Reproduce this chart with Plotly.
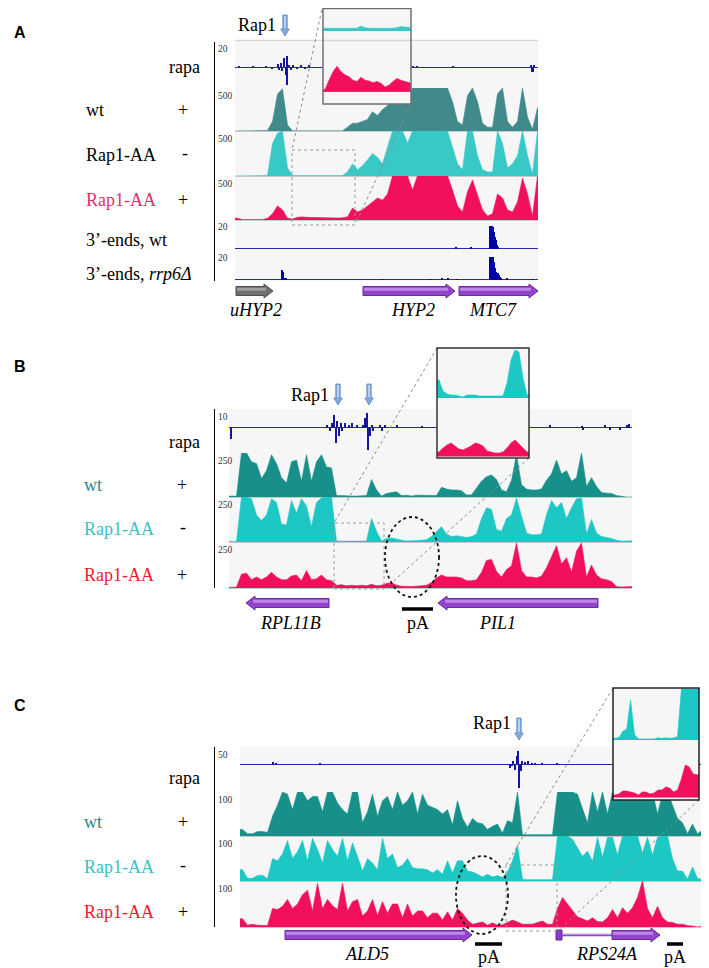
import plotly.graph_objects as go

# The page body adds an 8 px margin, so the figure is placed at (8, 8) in the window.
OFF = 8
W, H = 709 - OFF, 968 - OFF
def PX(x): return (x - OFF) / W
def PY(y): return 1 - (y - OFF) / H

# ---------------- data ----------------
BIN = 5  # coverage bin width (track units)

# Panel A coverage (scale 500)
A_wt = [0,0,0,0,0,0,5,110,430,490,70,2,2,2,2,5,10,3,2,2,3,2,45,90,90,110,135,225,180,250,295,385,385,365,340,
        500,500,500,500,500,500,500,500,340,110,70,410,500,340,90,45,45,430,500,110,45,110,500,160,20,270]
A_minus = [0,0,0,0,0,0,5,360,475,500,90,5,5,5,5,5,5,5,5,5,5,5,45,135,70,115,180,250,205,135,320,500,500,500,365,
           500,500,500,500,500,500,500,500,320,135,70,500,500,225,70,45,45,500,365,90,135,225,500,225,20,500]
A_plus = [20,5,5,5,5,5,20,70,160,115,20,10,30,35,30,28,25,22,25,20,22,25,35,135,90,115,160,205,250,225,295,
          500,500,500,500,340,500,500,500,500,500,500,500,340,160,90,320,455,295,115,45,70,295,250,115,90,205,475,295,45,500]
rapA_pos = [4,11,18,25,31,37,42.7,44.3,45.7,47.3,49.3,50.7,51.7,52.3,54.3,55.7,58,62,66,70,74,178,182,218,296.5,297.5,298.5,299.5]
rapA_val = [0.8,-0.8,0.8,-0.7,0.8,-1,2.4,-2,3,-3.5,7,-6,9,-14,2,-2,1.5,-1,1,-1,1,0.8,0.8,0.8,1.5,-4,-4,1]
endA_wt_pos = [221,236,255,256,257,258,259,260,261,262,263]
endA_wt_val = [1.2,0.8,15.6,15.6,15.6,15,12,8,6,2.5,1.5]
endA_rrp_pos = [46.7,47.7,49,50,51,147,195,207,213,222,255,256,257,258,259,260,261,262,263,264,265,266,272,298]
endA_rrp_val = [6.7,5,1.5,1.5,1,0.6,0.6,0.8,0.8,0.6,15.6,15.6,15.6,15,12,8,5,4.4,4.4,3,2,1.5,1,0.6]
A_in_minus = [5,6,6,5,5,5,5,5,5,9,6,5,5,5,5,4,5,5,6,8,7,6]
A_in_plus = [4,19,33,42,33,28,25,19,17,24,19,18,15,17,14,8,11,17,22,19,17,14]

# Panel B coverage (scale 250)
B_wt = [5,5,250,250,200,190,105,150,240,190,110,80,200,210,90,240,90,200,240,170,165,8,8,5,5,5,8,8,100,40,
        5,20,25,30,8,10,5,10,10,10,8,8,55,45,40,40,35,12,12,50,90,115,125,100,40,30,95,240,70,45,
        40,40,45,95,130,210,130,150,90,110,250,60,110,60,25,22,20,8,3,0,0]
B_minus = [3,3,250,250,240,150,120,150,240,220,100,95,230,160,240,200,85,220,245,250,250,5,5,5,3,3,5,5,130,60,
           5,20,22,18,10,5,5,8,10,12,30,60,85,45,30,35,30,25,30,45,130,190,180,70,60,130,150,245,145,50,
           40,40,45,150,230,190,220,130,190,240,245,45,125,50,30,25,20,10,5,5,8]
B_plus = [3,5,75,80,45,60,45,60,85,60,45,45,65,70,40,95,45,50,70,45,40,15,18,12,15,12,15,12,20,12,
          15,25,28,15,10,8,8,10,12,15,30,55,70,60,60,60,55,40,40,45,85,150,155,90,60,100,120,245,95,60,
          60,55,65,110,170,230,130,165,85,200,245,60,125,70,50,45,35,8,5,5,8]
rapB_pos = [2,97.7,101,103,105.3,106.7,108.3,110,111.7,113.3,116,120,123.3,127.7,134.3,136,138.3,139.3,141,142.7,144.5,
            151,152.7,156,167.7,192.7,321,353,354,376,381,391,398,400]
rapB_val = [-6,1.4,-1.4,2.6,7,-7.9,3.5,-4.4,2.6,-1.8,2.6,1.8,2.6,1.8,1.8,5.3,7.9,-11.4,-4.4,1.8,-1.8,
            1.8,-1.4,1.4,1.8,1,1.4,1,-1,1.4,-1,-1,1.4,2]
B_in_minus = [18,7,4,3,3,2,1,3,3,3,2,2,2,1.5,1.5,1.5,2,15,38,48,46,20,3]
B_in_plus = [4,8,11,13,10,7,6,8,10,13,12,10,5,4,3,3,4,8,13,16,12,7,4]

# Panel C coverage (scale 100)
C_wt = [15,5,5,10,10,8,45,70,100,95,60,100,100,80,90,90,55,100,100,75,60,50,100,100,30,55,95,45,80,90,
        60,100,70,80,100,50,95,70,65,60,50,60,25,80,40,20,40,30,28,15,22,27,7,35,30,100,3,3,3,3,
        3,3,3,100,100,100,100,95,60,30,100,55,100,50,100,95,100,100,100,100,80,100,100,50,95,100,70,40,30,5,27,5,14,3]
C_minus = [25,6,6,12,13,5,50,45,60,90,50,65,90,45,95,70,40,90,70,55,95,45,85,55,22,50,40,25,95,50,
           60,30,35,50,30,27,27,25,18,25,15,45,18,45,45,22,20,15,9,15,9,12,8,20,45,80,4,3,3,4,
           3,3,3,100,100,100,93,75,55,66,44,97,53,97,97,58,100,100,100,100,62,97,58,97,100,100,50,22,22,4,31,6,3,3]
C_plus = [18,4,6,4,4,3,40,38,45,60,40,50,70,80,35,95,40,60,46,38,95,35,55,60,24,35,60,25,55,30,
          50,50,20,50,24,35,35,20,30,30,15,33,15,40,30,15,6,9,11,4,9,4,5,10,15,11,6,6,6,10,
          13,6,6,40,64,50,35,22,18,13,20,12,11,20,38,20,42,30,42,64,100,40,20,45,20,11,10,6,6,3,2,0,2,2]
rapC_pos = [33.3,35.7,80,270,271.7,273.3,275,276.7,278.3,279.3,280.7,282.3,285,288.3,291.7,295,301.7,316.7]
rapC_val = [5,3,3,-11.8,-7,8,-16.7,22.5,39,-70.6,-21.6,7.8,5.9,7.8,3,3,3,2]
C_in_minus = [1.5,2,8,10,37,5,1,1,1,1.5,1,2,1.5,2,1.5,2,3,47,47,47,47,47]
C_in_plus = [2,3,6,6,5,4,2,5,5,3,4,7,7,10,9,5,7,18,32,30,23,22]

# Scales (track maxima)
scales_A = [20, 500, 500, 500, 20, 20]
scales_B = [10, 250, 250, 250]
scales_C = [50, 100, 100, 100]

# genes: (name, start, end, strand, kind, label_pos)
genes_A = [("uHYP2", 1, 38, 1, "gray", 21), ("HYP2", 128, 220, 1, "purple", 178), ("MTC7", 224, 303, 1, "purple", 258)]
genes_B = [("RPL11B", 17, 100, -1, "purple", 61), ("PIL1", 209, 369, -1, "purple", 268)]
genes_C = [("ALD5", 45, 232, 1, "purple", 127)]
rps24a = dict(name="RPS24A", box=(316, 322), intron=(322, 372), exon=(372, 420), label=367)
pA_B = [(173, 204)]
pA_C = [(235, 262), (427, 443)]
rap1_A = [50]
rap1_B = [109, 140]
rap1_C = [279]

# ---------------- styles ----------------
SERIF = "Liberation Serif"
WT_A, CY_A, PK = "#408a8c", "#38c8c6", "#f2105c"
WT_B, CY_B = "#17908a", "#1dc7c3"
NAVY = "#1414a0"
BG = "#f6f6f6"

layout = {}
traces = []
shapes = []
annotations = []
counter = [0]

def add_axes(xdom, ydom, xr, yr, ykw=None, xkw=None):
    counter[0] += 1
    n = counter[0]
    s = "" if n == 1 else str(n)
    xa = dict(domain=[PX(xdom[0]), min(1, PX(xdom[1]))], range=xr, anchor="y" + s, showgrid=False, zeroline=False,
              showticklabels=False, ticks="", showline=False, fixedrange=True)
    ya = dict(domain=[PY(ydom[1]), PY(ydom[0])], range=yr, anchor="x" + s, showgrid=False, zeroline=False,
              showticklabels=False, ticks="", showline=False, fixedrange=True)
    if xkw: xa.update(xkw)
    if ykw: ya.update(ykw)
    layout["xaxis" + s] = xa
    layout["yaxis" + s] = ya
    return "x" + s, "y" + s

def scale_axis(ymax):
    return dict(anchor="free", position=PX(214), showline=True, linecolor="black", linewidth=1,
                ticks="inside", ticklen=4, tickwidth=1, tickcolor="black", tickvals=[ymax])

def cov(vals, color, xs, ys, binw=BIN, shape="linear"):
    n = len(vals)
    x = [0] + [binw * (i + 0.5) for i in range(n)] + [binw * n]
    y = [vals[0]] + list(vals) + [vals[-1]]
    traces.append(go.Scatter(x=x, y=y, mode="lines", line=dict(color=color, width=0.6, shape=shape),
                             fill="tozeroy", fillcolor=color, xaxis=xs, yaxis=ys,
                             hoverinfo="skip", showlegend=False))

def bars(pos, val, color, xs, ys, width):
    traces.append(go.Bar(x=pos, y=val, width=width, marker=dict(color=color, line=dict(width=0)),
                         xaxis=xs, yaxis=ys, hoverinfo="skip", showlegend=False))

def scale_label(val, top):
    annotations.append(dict(text=str(val), x=PX(216), y=PY(top + 0.5), xref="paper", yref="paper",
                            xanchor="left", yanchor="top", showarrow=False,
                            font=dict(family=SERIF, size=9.5, color="#333")))

def label(text, x, y, color="black", anchor="left", size=18, xref="paper"):
    annotations.append(dict(text=text, x=x if xref != "paper" else PX(x), y=PY(y), xref=xref, yref="paper",
                            xanchor=anchor, yanchor="middle", showarrow=False,
                            font=dict(family=SERIF, size=size, color=color)))

def pth(pts):
    return "M " + " L ".join(f"{u:.3f},{PY(y):.5f}" for u, y in pts) + " Z"

def gene_arrow(xref, x0, x1, yc, strand, kind, bh=4.5, hh=7, hl=9):
    if kind == "gray":
        fill, edge, hi = "#6f6f6f", "#505050", "#b0b0b0"
    else:
        fill, edge, hi = "#9444cc", "#6a2a9e", "#c99cf0"
    if strand > 0:
        n = x1 - hl
        pts = [(x0, yc - bh), (n, yc - bh), (n, yc - hh), (x1, yc), (n, yc + hh), (n, yc + bh), (x0, yc + bh)]
        hp = [(x0 + 1, yc - bh + 1.3), (n + 2, yc - bh + 1.3), (n + 2, yc - 0.3), (x0 + 1, yc - 0.3)]
    else:
        n = x0 + hl
        pts = [(x1, yc - bh), (n, yc - bh), (n, yc - hh), (x0, yc), (n, yc + hh), (n, yc + bh), (x1, yc + bh)]
        hp = [(x1 - 1, yc - bh + 1.3), (n - 2, yc - bh + 1.3), (n - 2, yc - 0.3), (x1 - 1, yc - 0.3)]
    shapes.append(dict(type="path", xref=xref, yref="paper", path=pth(pts), fillcolor=fill,
                       line=dict(color=edge, width=1)))
    shapes.append(dict(type="path", xref=xref, yref="paper", path=pth(hp), fillcolor=hi,
                       line=dict(width=0), opacity=0.75))

def rap1_arrow(xref, u, ytop, ybot):
    sw, hw, hl = 2.2, 4.3, 7
    pts = [(u - sw, ytop), (u + sw, ytop), (u + sw, ybot - hl), (u + hw, ybot - hl), (u, ybot),
           (u - hw, ybot - hl), (u - sw, ybot - hl)]
    shapes.append(dict(type="path", xref=xref, yref="paper", path=pth(pts), fillcolor="#82a9dc",
                       line=dict(color="#5f88c2", width=0.8)))
    hp = [(u - 0.8, ytop + 1), (u + 0.8, ytop + 1), (u + 0.8, ybot - hl - 1), (u - 0.8, ybot - hl - 1)]
    shapes.append(dict(type="path", xref=xref, yref="paper", path=pth(hp), fillcolor="#c9dcf4",
                       line=dict(width=0)))

def pA_bar(xref, x0, x1, y):
    shapes.append(dict(type="line", xref=xref, yref="paper", x0=x0, x1=x1, y0=PY(y), y1=PY(y),
                       line=dict(color="black", width=3.5)))

def pline(x0, y0, x1, y1, color="#8c8c8c", width=1, dash="dot"):
    shapes.append(dict(type="line", xref="paper", yref="paper", x0=PX(x0), y0=PY(y0), x1=PX(x1), y1=PY(y1),
                       line=dict(color=color, width=width, dash=dash)))

def prect(x0, y0, x1, y1, color, width, dash="solid"):
    shapes.append(dict(type="rect", xref="paper", yref="paper", x0=PX(x0), y0=PY(y1), x1=PX(x1), y1=PY(y0),
                       line=dict(color=color, width=width, dash=dash)))

def pellipse(cx, cy, rx, ry):
    shapes.append(dict(type="circle", xref="paper", yref="paper", x0=PX(cx - rx), x1=PX(cx + rx),
                       y0=PY(cy + ry), y1=PY(cy - ry), line=dict(color="#111", width=1.8, dash="dot")))

def panel_letter(t, y):
    annotations.append(dict(text=f"<b>{t}</b>", x=PX(12), y=PY(y), xref="paper", yref="paper", xanchor="left",
                            yanchor="middle", showarrow=False,
                            font=dict(family="Liberation Sans", size=16, color="black")))

ZL = dict(zeroline=True, zerolinecolor="#2a2ab0", zerolinewidth=1.2)
xline = dict(showline=True, linecolor="#c9c9c9", linewidth=1)

# ---------------- Panel A ----------------
xdA, xrA = (235, 538), [0, 303]
tops_A = [42, 88, 131, 176, 220, 250, 281]
xs, ys = add_axes(xdA, (42, 88), xrA, [-16.8, 20], ykw=dict(scale_axis(20), **ZL))
bars(rapA_pos, rapA_val, NAVY, xs, ys, 1.2)
for vals, col, i in [(A_wt, WT_A, 1), (A_minus, CY_A, 2), (A_plus, PK, 3)]:
    xs, ys = add_axes(xdA, (tops_A[i], tops_A[i + 1]), xrA, [0, 500], ykw=scale_axis(500), xkw=xline)
    cov(vals, col, xs, ys)
for pos, val, i in [(endA_wt_pos, endA_wt_val, 4), (endA_rrp_pos, endA_rrp_val, 5)]:
    xs, ys = add_axes(xdA, (tops_A[i], tops_A[i + 1]), xrA, [-0.7, 20], ykw=dict(scale_axis(20), **ZL))
    bars(pos, val, "#0000a8", xs, ys, 1.05)
xA = xs
for v, t in zip(scales_A, tops_A):
    scale_label(v, t)
shapes.append(dict(type="line", xref="paper", yref="paper", x0=PX(235), x1=PX(538), y0=PY(40.5), y1=PY(40.5),
                   line=dict(color="#d6d6d6", width=1.5)))
for name, s, e, st, kind, lp in genes_A:
    gene_arrow(xA, s, e, 291, st, kind)
    label(f"<i>{name}</i>", lp, 310, anchor="center", xref=xA)
for u in rap1_A:
    rap1_arrow(xA, u, 15, 36)
    label("Rap1", u - 7, 25, anchor="right", xref=xA)
panel_letter("A", 33)
label("rapa", 202, 67, anchor="right")
label("wt", 84, 110); label("+", 183, 110, anchor="center")
label("Rap1-AA", 84, 155); label("-", 185, 153, anchor="center")
label("Rap1-AA", 84, 200, color="#e2306a"); label("+", 183, 200, anchor="center")
label("3’-ends, wt", 84, 240)
label("3’-ends, <i>rrp6Δ</i>", 84, 274)

# ---------------- Panel B ----------------
xdB, xrB = (229, 632), [0, 403]
tops_B = [409, 453, 497, 542, 588]
xs, ys = add_axes(xdB, (409, 453), xrB, [-13.2, 10], ykw=dict(scale_axis(10), **ZL))
bars(rapB_pos, rapB_val, NAVY, xs, ys, 1.2)
for vals, col, i in [(B_wt, WT_B, 1), (B_minus, CY_B, 2), (B_plus, PK, 3)]:
    xs, ys = add_axes(xdB, (tops_B[i], tops_B[i + 1]), xrB, [0, 250], ykw=scale_axis(250), xkw=xline)
    cov(vals, col, xs, ys)
xB = xs
for v, t in zip(scales_B, tops_B):
    scale_label(v, t)
for name, s, e, st, kind, lp in genes_B:
    gene_arrow(xB, s, e, 603, st, kind)
    label(f"<i>{name}</i>", lp, 623, anchor="center", xref=xB)
for s, e in pA_B:
    pA_bar(xB, s, e, 609)
    label("pA", (s + e) / 2, 623, anchor="center", xref=xB)
for u in rap1_B:
    rap1_arrow(xB, u, 384, 405)
label("Rap1", rap1_B[0] - 7, 395, anchor="right", xref=xB)
panel_letter("B", 366)
label("rapa", 202, 442, anchor="right")
label("wt", 82, 485, color="#2a8792"); label("+", 182, 485, anchor="center")
label("Rap1-AA", 82, 529, color="#3cc0c6"); label("-", 183, 527, anchor="center")
label("Rap1-AA", 82, 575, color="#e81c2e"); label("+", 182, 575, anchor="center")

# ---------------- Panel C ----------------
xdC, xrC = (240, 709), [0, 469]
tops_C = [747, 792, 836, 881, 927]
xs, ys = add_axes(xdC, (747, 792), xrC, [-82, 50], ykw=dict(scale_axis(50), **ZL))
bars(rapC_pos, rapC_val, NAVY, xs, ys, 1.2)
for vals, col, i in [(C_wt, WT_B, 1), (C_minus, CY_B, 2), (C_plus, PK, 3)]:
    xs, ys = add_axes(xdC, (tops_C[i], tops_C[i + 1]), xrC, [0, 100], ykw=scale_axis(100), xkw=xline)
    cov(vals, col, xs, ys)
xC = xs
for v, t in zip(scales_C, tops_C):
    scale_label(v, t)
for name, s, e, st, kind, lp in genes_C:
    gene_arrow(xC, s, e, 935, st, kind)
    label(f"<i>{name}</i>", lp, 954, anchor="center", xref=xC)
bx0, bx1 = rps24a["box"]
shapes.append(dict(type="rect", xref=xC, yref="paper", x0=bx0, x1=bx1, y0=PY(940), y1=PY(930),
                   fillcolor="#8a3cc4", line=dict(color="#5e2490", width=1)))
ix0, ix1 = rps24a["intron"]
shapes.append(dict(type="line", xref=xC, yref="paper", x0=ix0, x1=ix1, y0=PY(935), y1=PY(935),
                   line=dict(color="#8a3cc4", width=2.5)))
shapes.append(dict(type="line", xref=xC, yref="paper", x0=ix0, x1=ix1, y0=PY(934.6), y1=PY(934.6),
                   line=dict(color="#d6b6f2", width=0.8)))
ex0, ex1 = rps24a["exon"]
gene_arrow(xC, ex0, ex1, 935, 1, "purple")
label(f"<i>{rps24a['name']}</i>", rps24a["label"], 954, anchor="center", xref=xC)
for s, e in pA_C:
    pA_bar(xC, s, e, 944)
    label("pA", (s + e) / 2, 957, anchor="center", xref=xC)
for u in rap1_C:
    rap1_arrow(xC, u, 718, 740)
    label("Rap1", u - 6, 723, anchor="right", xref=xC)
panel_letter("C", 705)
label("rapa", 202, 778, anchor="right")
label("wt", 82, 822, color="#2a8792"); label("+", 183, 822, anchor="center")
label("Rap1-AA", 82, 867, color="#3cc0c6"); label("-", 183, 865, anchor="center")
label("Rap1-AA", 82, 912, color="#e81c2e"); label("+", 183, 912, anchor="center")

# ---------------- zoom boxes, connectors, ellipses ----------------
prect(292, 150, 355, 225, "#9a9a9a", 1, "dot")
pline(323, 4, 292, 150)
pline(411, 104, 356, 223)
prect(334, 523, 384, 589, "#9a9a9a", 1, "dot")
pline(437, 348, 334, 523)
pline(529, 458, 386, 588)
pellipse(412, 557, 27, 40)
prect(506, 865, 557, 931, "#9a9a9a", 1, "dot")
pline(613, 688, 506, 865)
pline(699, 800, 559, 930)
pellipse(482, 895, 26, 39)

# ---------------- insets (drawn last, on top) ----------------
def inset(xd, top, mid, bot, vminus, vplus, cmin, ymax_c, ymin_p, ymax_p, border):
    n = len(vminus)
    xs1, ys1 = add_axes(xd, (top, mid), [0, n], [0, ymax_c])
    cov(vminus, cmin, xs1, ys1, binw=1)
    xs2, ys2 = add_axes(xd, (mid, bot), [0, n], [ymin_p, ymax_p],
                        ykw=dict(zeroline=True, zerolinecolor="#f27a9c", zerolinewidth=1.2))
    cov(vplus, PK, xs2, ys2, binw=1)
    prect(xd[0], top, xd[1], bot, border, 1.5)

inset((323, 411), 8.5, 31, 104, A_in_minus, A_in_plus, CY_A, 40, -20, 100, "#707070")
inset((437, 529), 348, 398, 458, B_in_minus, B_in_plus, CY_B, 50, -2, 58, "#333333")
inset((613, 699), 688, 740, 800, C_in_minus, C_in_plus, CY_B, 48, -3, 57, "#222222")

fig = go.Figure(data=traces)
fig.update_layout(width=W, height=H, margin=dict(l=0, r=0, t=0, b=0), paper_bgcolor="white",
                  plot_bgcolor=BG, showlegend=False, hovermode=False, bargap=0,
                  shapes=shapes, annotations=annotations, **layout)
fig.write_html("out.html")
